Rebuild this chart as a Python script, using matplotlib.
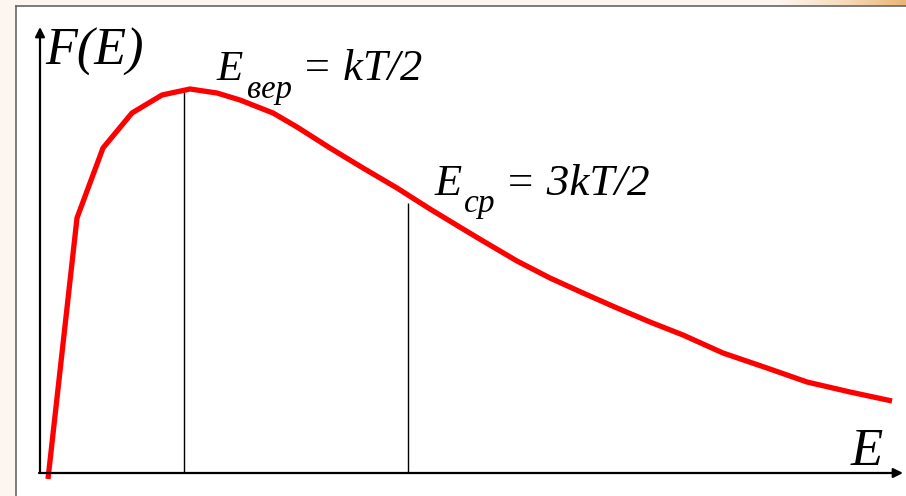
import numpy as np
import matplotlib.pyplot as plt
from matplotlib.patches import Rectangle
from matplotlib.lines import Line2D
from matplotlib.colors import LinearSegmentedColormap

plt.rcParams['font.family'] = 'Liberation Serif'

# distribution curve
energy = [0.08, 0.37, 0.63, 0.92, 1.22, 1.50, 1.77, 2.00, 2.33, 2.57,
          2.90, 3.23, 3.57, 3.90, 4.23, 4.43, 4.77, 5.10, 5.43, 5.77,
          6.10, 6.43, 6.83, 7.27, 7.67, 8.10, 8.52]
f_e = [-0.06, 2.55, 3.25, 3.60, 3.78, 3.84, 3.80, 3.73, 3.60, 3.46,
       3.25, 3.05, 2.85, 2.64, 2.44, 2.32, 2.12, 1.95, 1.80, 1.65,
       1.51, 1.38, 1.20, 1.05, 0.91, 0.81, 0.72]

# most probable and mean energy markers
e_marks = [1.44, 3.68]
f_marks = [3.83, 2.70]

fig = plt.figure(figsize=(9.06, 4.96), dpi=100, facecolor='#fdf5ef')

# white slide panel with grey border
fig.add_artist(Rectangle((16 / 906, 0), 1 - 16 / 906, 490 / 496,
                         transform=fig.transFigure, facecolor='white',
                         edgecolor='none', zorder=0))
fig.add_artist(Line2D([16 / 906, 16 / 906], [0, 490 / 496],
                      transform=fig.transFigure, color='#666666', lw=1.2))
fig.add_artist(Line2D([16 / 906, 1], [490 / 496, 490 / 496],
                      transform=fig.transFigure, color='#666666', lw=1.2))

# orange gradient in top right corner
gax = fig.add_axes([780 / 906, 490 / 496, 126 / 906, 6 / 496])
cmap = LinearSegmentedColormap.from_list('bg', ['#fdf5ef', '#f6dcbc', '#edb474'])
gax.imshow(np.linspace(0, 1, 100)[None, :], aspect='auto', cmap=cmap)
gax.axis('off')

ax = fig.add_axes([0, 0, 1, 1])
ax.set_facecolor('none')
ax.set_xlim(-0.40, 8.66)
ax.set_ylim(-0.23, 4.73)
ax.axis('off')

ax.plot(energy, f_e, color='#ff0000', lw=3.8, solid_joinstyle='round',
        solid_capstyle='butt', zorder=3)
ax.vlines(e_marks, 0, f_marks, color='black', lw=1.0, zorder=2)

# axes with arrows
ax.annotate('', xy=(0, 4.46), xytext=(0, 0),
            arrowprops=dict(arrowstyle='-|>', color='black', lw=1.6,
                            mutation_scale=14, shrinkA=0, shrinkB=0))
ax.annotate('', xy=(8.63, 0), xytext=(-0.01, 0),
            arrowprops=dict(arrowstyle='-|>', color='black', lw=1.6,
                            mutation_scale=14, shrinkA=0, shrinkB=0))

txt = dict(style='italic', ha='left', va='baseline', color='black')
ax.text(0.05, 4.08, 'F(E)', fontsize=37.5, **txt)
ax.text(8.11, 0.08, 'E', fontsize=38, **txt)

ax.text(1.77, 3.93, 'E', fontsize=31, **txt)
ax.text(2.07, 3.75, 'вер', fontsize=23.5, **txt)
ax.text(2.62, 3.93, '= kT/2', fontsize=32, **txt)

ax.text(3.95, 2.78, 'E', fontsize=32, **txt)
ax.text(4.24, 2.61, 'ср', fontsize=24, **txt)
ax.text(4.65, 2.78, '= 3kT/2', fontsize=32.5, **txt)

fig.savefig('out.png', dpi=100, facecolor=fig.get_facecolor())
